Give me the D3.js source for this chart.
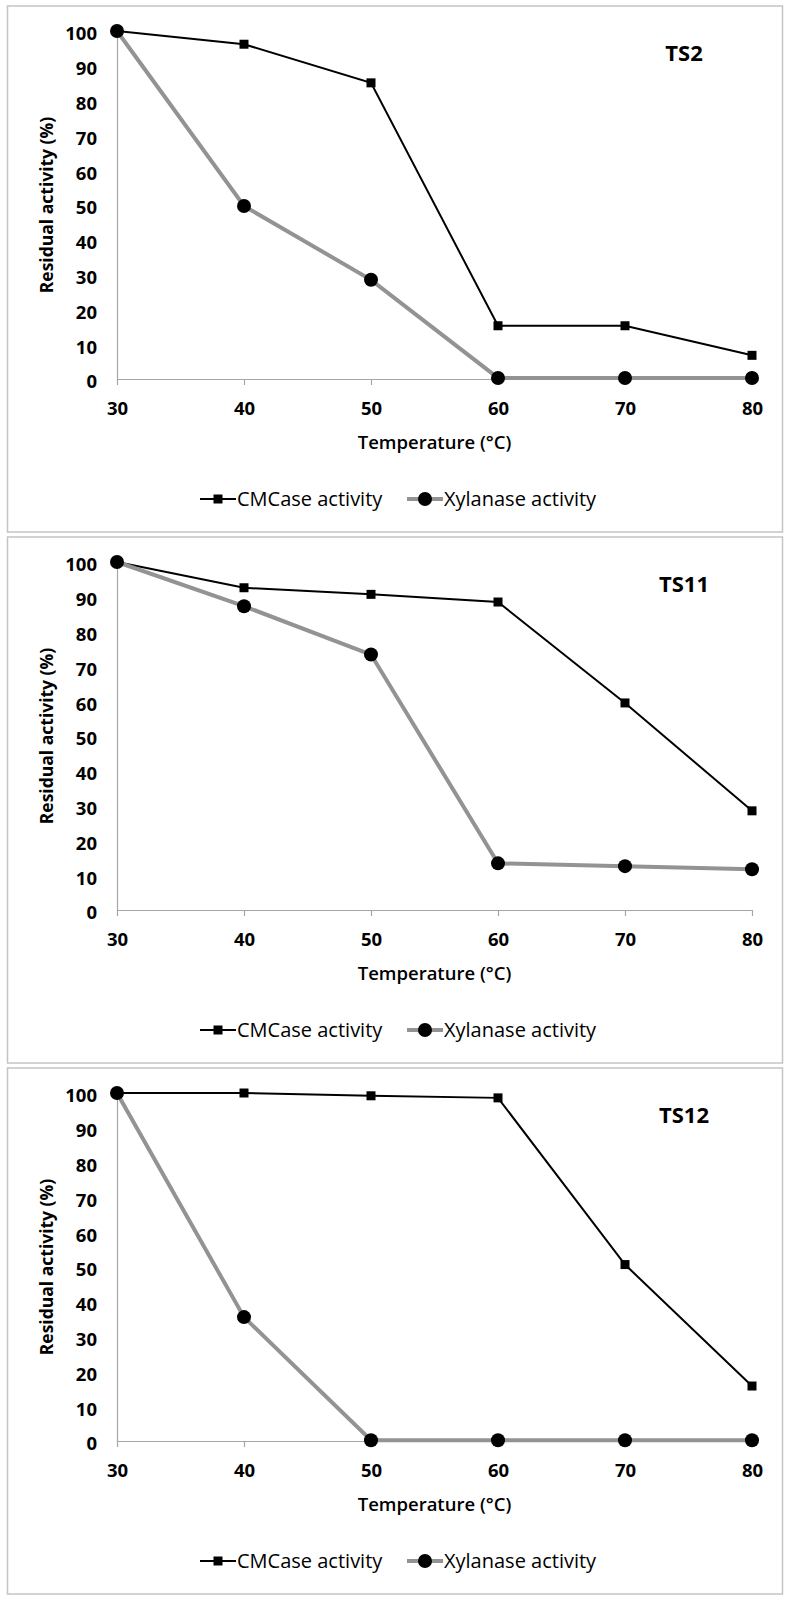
<!DOCTYPE html>
<html><head><meta charset="utf-8">
<script src="https://cdn.jsdelivr.net/npm/d3@7"></script>
<style>body{margin:0;background:#fff}svg{display:block}</style>
</head><body><svg id="c" width="790" height="1599"></svg>
<script>
const temperatures = [30, 40, 50, 60, 70, 80];
const panelLabels = ["TS2", "TS11", "TS12"];
const cmcaseTS2 = [100, 96.2, 85.1, 15.3, 15.3, 6.8];
const xylanaseTS2 = [100, 49.7, 28.5, 0.3, 0.3, 0.3];
const cmcaseTS11 = [100, 92.6, 90.7, 88.5, 59.5, 28.5];
const xylanaseTS11 = [100, 87.3, 73.4, 13.4, 12.6, 11.7];
const cmcaseTS12 = [100, 100, 99.2, 98.6, 50.7, 15.8];
const xylanaseTS12 = [100, 35.6, 0.2, 0.2, 0.2, 0.2];
const yTicks = [0, 10, 20, 30, 40, 50, 60, 70, 80, 90, 100];
const seriesNames = ["CMCase activity", "Xylanase activity"];
const xTitle = "Temperature (°C)";
const yTitle = "Residual activity (%)";

const panels = [
  {label: panelLabels[0], cm: cmcaseTS2, xy: xylanaseTS2},
  {label: panelLabels[1], cm: cmcaseTS11, xy: xylanaseTS11},
  {label: panelLabels[2], cm: cmcaseTS12, xy: xylanaseTS12}
];

const svg = d3.select("#c");
const FONT = "'Open Sans', 'Liberation Sans', sans-serif";
const BLACK = "#000", GREY = "#939393", AXIS = "#a6a6a6";

const x = d3.scaleLinear().domain([30, 80]).range([117, 752]);

panels.forEach((p, i) => {
  const top = 6 + 531 * i;
  const g = svg.append("g");
  g.append("rect").attr("x", 7.5).attr("y", top).attr("width", 775).attr("height", 526)
    .attr("fill", "#fff").attr("stroke", "#c4c4c4").attr("stroke-width", 1.5);

  const y = d3.scaleLinear().domain([0, 100]).range([top + 373, top + 25]);

  // x axis
  const xa = g.append("g").attr("transform", `translate(0,${y(0)})`)
    .call(d3.axisBottom(x).tickValues(temperatures).tickSize(6).tickSizeOuter(0).tickFormat(d3.format("d")));
  xa.select(".domain").attr("stroke", AXIS).attr("stroke-width", 1.2);
  xa.selectAll(".tick line").attr("stroke", AXIS).attr("stroke-width", 1.2);
  xa.selectAll(".tick text").attr("y", 30).attr("dy", "0.35em")
    .attr("font-family", FONT).attr("font-size", 18.5).attr("font-weight", 700).attr("fill", "#000");

  // y axis
  const ya = g.append("g").attr("transform", `translate(${x(30)},0)`)
    .call(d3.axisLeft(y).tickValues(yTicks).tickSize(0).tickSizeOuter(0).tickPadding(20).tickFormat(d3.format("d")));
  ya.select(".domain").attr("stroke", AXIS).attr("stroke-width", 1.2);
  ya.selectAll(".tick text").attr("y", 2.5).attr("dy", "0.35em")
    .attr("font-family", FONT).attr("font-size", 18.5).attr("font-weight", 700).attr("fill", "#000");

  // titles
  g.append("text").attr("x", (x(30) + x(80)) / 2).attr("y", top + 437).attr("dy", "0.35em")
    .attr("text-anchor", "middle").attr("font-family", FONT).attr("font-size", 18.5)
    .attr("font-weight", 600).text(xTitle);
  g.append("text").attr("transform", `translate(47,${(y(0) + y(100)) / 2}) rotate(-90)`)
    .attr("dy", "0.35em").attr("text-anchor", "middle").attr("font-family", FONT)
    .attr("font-size", 17.5).attr("font-weight", 700).text(yTitle);
  g.append("text").attr("x", 684).attr("y", top + 47).attr("dy", "0.35em")
    .attr("text-anchor", "middle").attr("font-family", FONT).attr("font-size", 22)
    .attr("font-weight", 700).text(p.label);

  const line = d3.line().x((d, k) => x(temperatures[k])).y(d => y(d));

  // CMCase
  g.append("path").datum(p.cm).attr("d", line).attr("fill", "none")
    .attr("stroke", BLACK).attr("stroke-width", 2);
  g.selectAll(".sq").data(p.cm).enter().append("path")
    .attr("transform", (d, k) => `translate(${x(temperatures[k])},${y(d)})`)
    .attr("d", d3.symbol(d3.symbolSquare, 81)).attr("fill", BLACK);

  // Xylanase
  g.append("path").datum(p.xy).attr("d", line).attr("fill", "none")
    .attr("stroke", GREY).attr("stroke-width", 4);
  g.selectAll(".ci").data(p.xy).enter().append("circle")
    .attr("cx", (d, k) => x(temperatures[k])).attr("cy", d => y(d)).attr("r", 7).attr("fill", BLACK);

  // legend
  const ly = top + 493;
  const lg = g.append("g");
  lg.append("line").attr("x1", 200).attr("x2", 236).attr("y1", ly).attr("y2", ly)
    .attr("stroke", BLACK).attr("stroke-width", 2);
  lg.append("path").attr("transform", `translate(218,${ly})`)
    .attr("d", d3.symbol(d3.symbolSquare, 81)).attr("fill", BLACK);
  lg.append("text").attr("x", 237).attr("y", ly).attr("dy", "0.35em")
    .attr("font-family", FONT).attr("font-size", 20).attr("font-weight", 500).text(seriesNames[0]);
  lg.append("line").attr("x1", 407).attr("x2", 443).attr("y1", ly).attr("y2", ly)
    .attr("stroke", GREY).attr("stroke-width", 4);
  lg.append("circle").attr("cx", 425).attr("cy", ly).attr("r", 7).attr("fill", BLACK);
  lg.append("text").attr("x", 444).attr("y", ly).attr("dy", "0.35em")
    .attr("font-family", FONT).attr("font-size", 20).attr("font-weight", 500).text(seriesNames[1]);
});
</script></body></html>
